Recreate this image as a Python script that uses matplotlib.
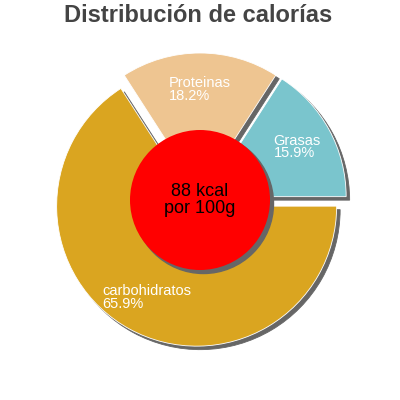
import matplotlib.pyplot as plt
import matplotlib.patches as mpatches

plt.rcParams['font.family'] = ['Liberation Sans', 'DejaVu Sans']

nutrientes = ["Grasas", "Proteinas", "carbohidratos"]
porcentajes = [15.9, 18.2, 65.9]
colores = ["#7AC5CD", "#EEC591", "#DAA520"]
kcal = 88
titulo = "Distribución de calorías"

fig = plt.figure(figsize=(4, 4), dpi=100)
ax = fig.add_axes([0, 0, 1, 1])

etiquetas = [f"{n}\n{p}%" for n, p in zip(nutrientes, porcentajes)]
sombra = dict(ox=0.018, oy=-0.018, facecolor='#666666', edgecolor='#666666', alpha=1)

ax.pie(porcentajes, labels=etiquetas, colors=colores, startangle=0,
       counterclock=True, explode=[0.05] * len(porcentajes), radius=1,
       labeldistance=0.74, shadow=sombra,
       wedgeprops=dict(edgecolor='white', linewidth=0.6),
       textprops=dict(color='white', fontsize=10.5, ha='center',
                      multialignment='left', linespacing=0.9))

centro = mpatches.Circle((0, 0), 0.5, facecolor='red', edgecolor='none', zorder=5)
ax.add_patch(centro)
ax.add_patch(mpatches.Shadow(centro, 0.018, -0.018, facecolor='#666666',
                             edgecolor='#666666', alpha=1))
ax.text(0, 0, f"{kcal} kcal\npor 100g", ha='center', va='center',
        fontsize=13, color='black', zorder=6, linespacing=1.0)

# pie() resets the limits, so set them afterwards
lim = 200 / 140
ax.set_xlim(-lim, lim)
ax.set_ylim(-lim, lim)
ax.set_aspect('equal')
ax.axis('off')

fig.text(0.495, 1 - 16 / 400, titulo, ha='center', va='center',
         fontsize=17, fontweight='bold', color='#444444')

fig.savefig("out.png", dpi=100)
